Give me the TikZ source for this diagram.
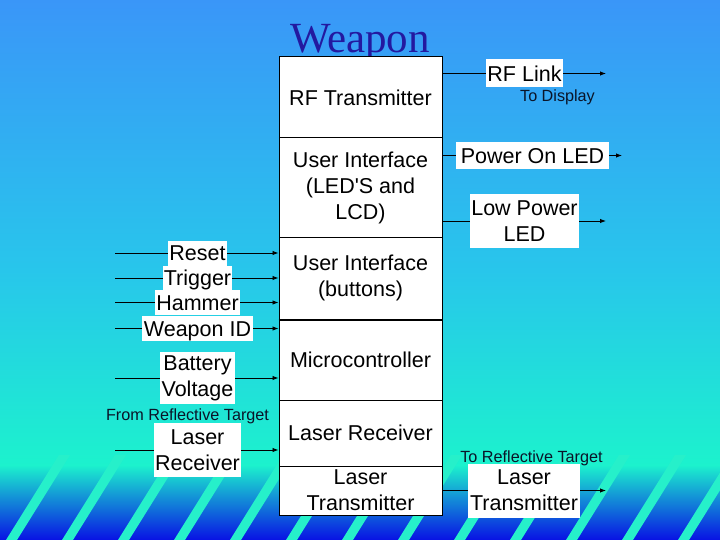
\documentclass[tikz,border=0pt]{standalone}
\usepackage{fontspec}
\setmainfont{Liberation Sans}
\newfontfamily\titlefont{Liberation Serif}
\usetikzlibrary{arrows.meta}
\definecolor{bgA}{RGB}{58,150,248}
\definecolor{bgB}{RGB}{40,198,235}
\definecolor{bgC}{RGB}{28,242,205}
\definecolor{bgD}{RGB}{8,18,228}
\definecolor{stripecol}{RGB}{38,240,202}
\definecolor{titleblue}{RGB}{35,25,160}
\definecolor{smalltext}{RGB}{10,20,40}
\newcommand\mainsz{\fontsize{21.5}{26}\selectfont}
\newcommand\smallsz{\fontsize{16.2}{18}\selectfont}
\begin{document}
\begin{tikzpicture}[x=1pt,y=-1pt,
  sec/.style={draw, line width=1pt, fill=white, minimum width=163pt, inner sep=0pt, align=center, font=\mainsz},
  lbl/.style={fill=white, inner sep=0pt, align=center, font=\mainsz},
  oneline/.style={text height=15.5pt, text depth=0pt},
  note/.style={inner sep=0pt, font=\smallsz, text=smalltext},
  ln/.style={line width=0.9pt},
  arr/.style={line width=0.9pt, -{Latex[length=6pt,width=4.5pt]}}]
\useasboundingbox (0,0) rectangle (720,540);
% background
\shade[top color=bgA, bottom color=bgB] (0,0) rectangle (720,270.5);
\shade[top color=bgB, bottom color=bgC] (0,270) rectangle (720,465.5);
\shade[top color=bgC, bottom color=bgD] (0,465) rectangle (720,540);
\begin{scope}
\clip (0,0) rectangle (720,540);
\foreach \k in {0,...,13}{
  \fill[stripecol] ({6+56*\k},540) -- ({17+56*\k},540) -- ({70+56*\k},455) -- ({59+56*\k},455) -- cycle;
}
\end{scope}
% title
\node[anchor=base, inner sep=0pt, font=\titlefont\fontsize{43}{43}\selectfont, text=titleblue] (title) at (360,53) {Weapon};
% main column
\node[sec, minimum height=81pt] (s1) at (360.5,97.5) {RF Transmitter};
\node[sec, minimum height=99pt] (s2) at (360.5,187.5) {User Interface\\(LED\textquotesingle S and\\LCD)};
\node[sec, minimum height=82pt] (s3) at (360.5,278) {User Interface\\(buttons)};
\node[sec, minimum height=81pt] (s4) at (360.5,359.5) {Microcontroller};
\node[sec, minimum height=66pt] (s5) at (360.5,433) {Laser Receiver};
\node[sec, minimum height=49pt] (s6) at (360.5,490.5) {Laser\\Transmitter};
\draw[line width=2pt] (s3.south west) -- (s3.south east);
% left inputs
\node[lbl, oneline, minimum width=59pt, minimum height=25pt] (reset) at (197.5,253) {Reset};
\node[lbl, oneline, minimum width=69pt, minimum height=25pt] (trig) at (197.5,278) {Trigger};
\node[lbl, oneline, minimum width=85pt, minimum height=25pt] (ham) at (197.5,302.5) {Hammer};
\node[lbl, oneline, minimum width=111pt, minimum height=25pt] (wid) at (197.5,328.5) {Weapon ID};
\node[lbl, minimum width=75pt, minimum height=52pt] (batt) at (197.5,378) {Battery\\Voltage};
\node[note] (from) at (187.5,416) {From Reflective Target};
\node[lbl, minimum width=87pt, minimum height=54pt] (lrx) at (197.5,450) {Laser\\Receiver};
\coordinate (iReset) at (115,253);
\coordinate (iTrig) at (115,278);
\coordinate (iHam) at (115,302.5);
\coordinate (iWid) at (115,328.5);
\coordinate (iBatt) at (115,378);
\coordinate (iLrx) at (115,450);
\draw[ln] (iReset) -- (reset.west);
\draw[arr] (reset.east) -- (reset.east -| s3.west);
\draw[ln] (iTrig) -- (trig.west);
\draw[arr] (trig.east) -- (trig.east -| s3.west);
\draw[ln] (iHam) -- (ham.west);
\draw[arr] (ham.east) -- (ham.east -| s3.west);
\draw[ln] (iWid) -- (wid.west);
\draw[arr] (wid.east) -- (wid.east -| s4.west);
\draw[ln] (iBatt) -- (batt.west);
\draw[arr] (batt.east) -- (batt.east -| s4.west);
\draw[ln] (iLrx) -- (lrx.west);
\draw[arr] (lrx.east) -- (lrx.east -| s5.west);
% right outputs
\node[lbl, oneline, minimum width=77pt, minimum height=28pt] (rf) at (524.5,73.5) {RF Link};
\node[note] (todisp) at (557.5,97) {To Display};
\node[lbl, oneline, minimum width=153pt, minimum height=27pt] (pow) at (532.5,155.5) {Power On LED};
\node[lbl, minimum width=109pt, minimum height=54pt] (low) at (524.5,221) {Low Power\\LED};
\node[note] (toref) at (531.5,458) {To Reflective Target};
\node[lbl, minimum width=112pt, minimum height=54pt] (ltx) at (524,490.5) {Laser\\Transmitter};
\coordinate (oRF) at (606,73.5);
\coordinate (oPow) at (622,155.5);
\coordinate (oLow) at (606,221);
\coordinate (oLtx) at (606,490.5);
\draw[ln] (rf.west -| s1.east) -- (rf.west);
\draw[arr] (rf.east) -- (oRF);
\draw[ln] (pow.west -| s2.east) -- (pow.west);
\draw[arr] (pow.east) -- (oPow);
\draw[ln] (low.west -| s2.east) -- (low.west);
\draw[arr] (low.east) -- (oLow);
\draw[ln] (ltx.west -| s6.east) -- (ltx.west);
\draw[arr] (ltx.east) -- (oLtx);
\end{tikzpicture}
\end{document}
